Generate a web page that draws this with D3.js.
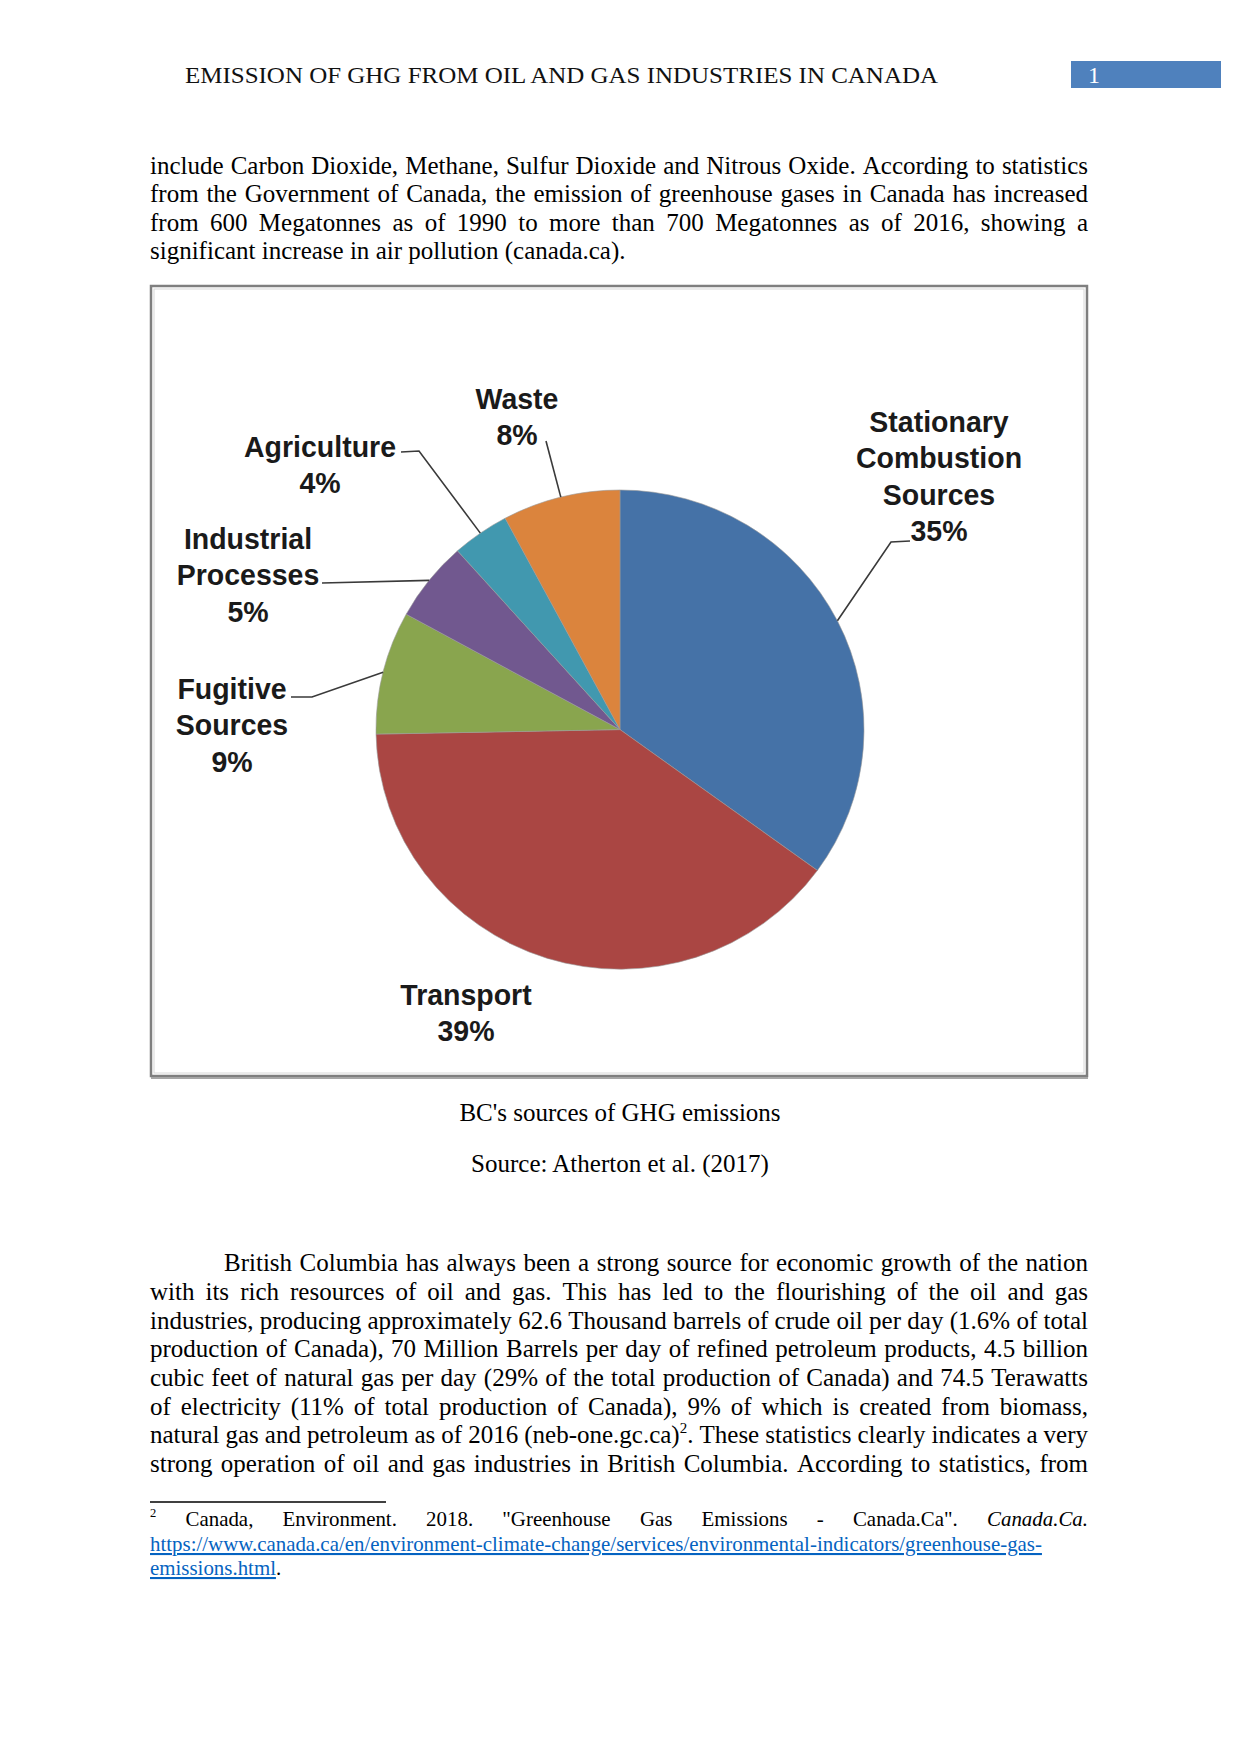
<!DOCTYPE html>
<html>
<head>
<meta charset="utf-8">
<script src="https://cdn.jsdelivr.net/npm/d3@7"></script>
<style>
  html, body { margin: 0; padding: 0; background: #fff; }
  svg { display: block; }
</style>
</head>
<body>
<svg id="page" width="1241" height="1754"></svg>
<script>
// ---------------- DATA ----------------
const categories = ["Stationary Combustion Sources", "Transport", "Fugitive Sources", "Industrial Processes", "Agriculture", "Waste"];
const nameLines = [["Stationary", "Combustion", "Sources"], ["Transport"], ["Fugitive", "Sources"], ["Industrial", "Processes"], ["Agriculture"], ["Waste"]];
// printed (rounded) percentages in the labels
const labelPercents = [35, 39, 9, 5, 4, 8];
const values = [35, 39.7, 8.3, 5.4, 3.8, 7.8];
const sliceColors = ["#4572A7", "#AA4643", "#89A54E", "#71588F", "#4198AF", "#DB843D"];

const headerTitle = "EMISSION OF GHG FROM OIL AND GAS INDUSTRIES IN CANADA";
const pageNumber = "1";
const para1 = [
  "include Carbon Dioxide, Methane, Sulfur Dioxide and Nitrous Oxide. According to statistics",
  "from the Government of Canada, the emission of greenhouse gases in Canada has increased",
  "from 600 Megatonnes as of 1990 to more than 700 Megatonnes as of 2016, showing a",
  "significant increase in air pollution (canada.ca)."
];
const captions = ["BC's sources of GHG emissions", "Source: Atherton et al. (2017)"];
const para2 = [
  "British Columbia has always been a strong source for economic growth of the nation",
  "with its rich resources of oil and gas. This has led to the flourishing of the oil and gas",
  "industries, producing approximately 62.6 Thousand barrels of crude oil per day (1.6% of total",
  "production of Canada), 70 Million Barrels per day of refined petroleum products, 4.5 billion",
  "cubic feet of natural gas per day (29% of the total production of Canada) and 74.5 Terawatts",
  "of electricity (11% of total production of Canada), 9% of which is created from biomass,",
  "natural gas and petroleum as of 2016 (neb-one.gc.ca)^2. These statistics clearly indicates a very",
  "strong operation of oil and gas industries in British Columbia. According to statistics, from"
];
const footnote = [
  "^2 Canada, Environment. 2018. \"Greenhouse Gas Emissions - Canada.Ca\". *Canada.Ca.*",
  "[https://www.canada.ca/en/environment-climate-change/services/environmental-indicators/greenhouse-gas-]",
  "[emissions.html]."
];

// ---------------- LAYOUT ----------------
const svg = d3.select("#page");
const serif = "'Liberation Serif', 'Times New Roman', serif";
const sans = "'Liberation Sans', Arial, sans-serif";
const L = 150, R = 1088;

function parseWord(w) {
  const parts = w.split(/(\^\d+|\*[^*]+\*|\[[^\]]+\])/).filter(s => s.length);
  return parts.map(p => {
    if (p[0] === "^") return { t: p.slice(1), sup: true };
    if (p[0] === "*") return { t: p.slice(1, -1), i: true };
    if (p[0] === "[") return { t: p.slice(1, -1), link: true };
    return { t: p };
  });
}
function drawLine(parent, str, x0, x1, y, o) {
  const size = o.size, justify = o.justify;
  const words = str.split(" ").map(parseWord);
  const g = parent.append("g").attr("font-family", serif).attr("fill", "#000");
  const probe = g.append("text").attr("font-size", size).text("x x");
  const probe2 = g.append("text").attr("font-size", size).text("xx");
  const sp = probe.node().getComputedTextLength() - probe2.node().getComputedTextLength();
  probe.remove(); probe2.remove();
  const ws = words.map(w => w.map(seg => {
    const el = g.append("text")
      .attr("y", seg.sup ? y - size * 0.42 : y)
      .attr("font-size", seg.sup ? size * 0.6 : size)
      .attr("font-style", seg.i ? "italic" : null)
      .attr("fill", seg.link ? "#0563C1" : "#000")
      .style("text-decoration", seg.link ? "underline" : null)
      .text(seg.t);
    return { el, w: el.node().getComputedTextLength() };
  }));
  const wordW = ws.map(w => d3.sum(w, s => s.w));
  const total = d3.sum(wordW);
  const gap = justify && ws.length > 1 ? (x1 - x0 - total) / (ws.length - 1) : sp;
  let x = x0;
  ws.forEach(w => {
    w.forEach(s => { s.el.attr("x", x); x += s.w; });
    x += gap;
  });
}

// ---- header ----
svg.append("text").attr("x", 185).attr("y", 83)
  .attr("font-family", serif).attr("font-size", 23).attr("fill", "#111")
  .attr("textLength", 753).attr("lengthAdjust", "spacingAndGlyphs")
  .text(headerTitle);
svg.append("rect").attr("x", 1071).attr("y", 61).attr("width", 150).attr("height", 27).attr("fill", "#4F81BD");
svg.append("text").attr("x", 1088).attr("y", 83).attr("font-family", serif).attr("font-size", 24)
  .attr("fill", "#fff").text(pageNumber);

// ---- paragraph 1 ----
const p1Base = [174, 202, 231, 259];
para1.forEach((s, i) => drawLine(svg, s, L, R, p1Base[i], { size: 25, justify: i < para1.length - 1 }));

// ---- chart frame ----
const frame = svg.append("g");
frame.append("rect").attr("x", 151).attr("y", 286).attr("width", 936).attr("height", 790)
  .attr("fill", "#fff").attr("stroke", "#7f7f7f").attr("stroke-width", 2.5);
frame.append("rect").attr("x", 154).attr("y", 289).attr("width", 930).attr("height", 784)
  .attr("fill", "none").attr("stroke", "#d8d8d8").attr("stroke-width", 1);
frame.append("line").attr("x1", 151).attr("x2", 1088).attr("y1", 1078).attr("y2", 1078)
  .attr("stroke", "#a6a6a6").attr("stroke-width", 2);

// ---- pie ----
const cx = 620, cy = 729.6, r = 244, squash = 0.982;
const pie = d3.pie().sort(null).value(d => d).startAngle(0).endAngle(2 * Math.PI);
const arcs = pie(values);
const arc = d3.arc().innerRadius(0).outerRadius(r);
const edgeArc = d3.arc().innerRadius(r).outerRadius(r);
const chart = svg.append("g").attr("transform", `translate(${cx},${cy}) scale(1,${squash})`);
chart.selectAll("path.slice").data(arcs).join("path")
  .attr("class", "slice")
  .attr("d", arc)
  .attr("fill", (d, i) => sliceColors[i])
  .attr("stroke", "#9a9a9a").attr("stroke-opacity", 0.6).attr("stroke-width", 1);

// label layout (centre x, first baseline) and leader start points, in page coords
const labelPos = [[939, 432], [466, 1005], [232, 699], [248, 549], [320, 457], [517, 409]];
const leaderFrom = [[[910, 541], [891, 542]], null, [[291, 697], [312, 697]], [[322, 583]], [[401, 452], [419, 451]], [[546, 441]]];
const lineGap = 36.5;

const labels = svg.append("g").attr("font-family", sans).attr("font-weight", "bold")
  .attr("font-size", 28.5).attr("fill", "#1a1a1a").attr("text-anchor", "middle");
arcs.forEach((d, i) => {
  const lines = nameLines[i].concat([labelPercents[i] + "%"]);
  const t = labels.append("text").attr("transform", `translate(${labelPos[i][0]},${labelPos[i][1]}) scale(1,1.06)`);
  lines.forEach((ln, k) => t.append("tspan").attr("x", 0).attr("y", k * lineGap / 1.06).text(ln));
  if (leaderFrom[i]) {
    const c = edgeArc.centroid(d);
    const pts = leaderFrom[i].concat([[cx + c[0], cy + c[1] * squash]]);
    svg.append("path").attr("d", d3.line()(pts))
      .attr("fill", "none").attr("stroke", "#3a3a3a").attr("stroke-width", 1.6);
  }
});

// ---- captions ----
const capBase = [1121, 1172];
captions.forEach((c, i) => svg.append("text").attr("x", 620).attr("y", capBase[i])
  .attr("text-anchor", "middle").attr("font-family", serif).attr("font-size", 25).attr("fill", "#000").text(c));

// ---- paragraph 2 ----
const p2Base = [1271, 1300, 1329, 1357, 1386, 1415, 1443, 1472];
para2.forEach((s, i) => drawLine(svg, s, i === 0 ? 224 : L, R, p2Base[i], { size: 25, justify: true }));

// ---- footnote ----
svg.append("line").attr("x1", L).attr("x2", 386).attr("y1", 1502).attr("y2", 1502)
  .attr("stroke", "#000").attr("stroke-width", 1.3);
const fnBase = [1526, 1551, 1575];
footnote.forEach((s, i) => drawLine(svg, s, L, R, fnBase[i], { size: 20.9, justify: i === 0 }));
</script>
</body>
</html>
